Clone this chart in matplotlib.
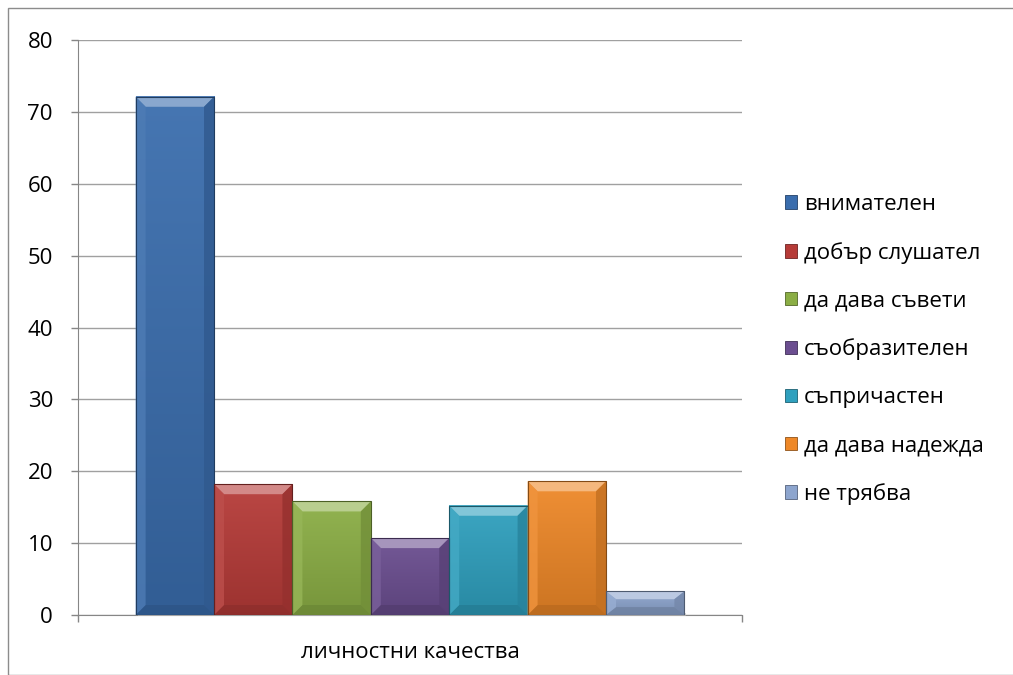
import matplotlib
matplotlib.use('Agg')
import matplotlib.pyplot as plt
from matplotlib.patches import Polygon, Rectangle, Patch
from matplotlib import colors as mcolors
import numpy as np

plt.rcParams['font.family'] = ['Open Sans', 'DejaVu Sans']

# Data
categories = ['внимателен', 'добър слушател', 'да дава съвети', 'съобразителен',
              'съпричастен', 'да дава надежда', 'не трябва']
values = [72.1, 18.2, 15.8, 10.7, 15.2, 18.6, 3.3]
group_label = 'личностни качества'
bar_colors = ['#3A6DAD', '#B63B38', '#8BAE45', '#6B4E90', '#2FA0BE', '#EE8828', '#8DA5CE']
y_ticks = [0, 10, 20, 30, 40, 50, 60, 70, 80]


def mix(c, other, t):
    c = np.array(mcolors.to_rgb(c))
    o = np.array(mcolors.to_rgb(other))
    return tuple(c * (1 - t) + o * t)


W, H = 1013, 675
fig = plt.figure(figsize=(W / 100, H / 100), dpi=100)

# chart area border
fig.patches.append(Rectangle((8 / W, 0), 1.2, 1 - 8 / H, transform=fig.transFigure,
                             fill=False, edgecolor='#8C8C8C', linewidth=1))

ax_l, ax_r, ax_t, ax_b = 78, 742, 40, 615
ax = fig.add_axes([ax_l / W, 1 - ax_b / H, (ax_r - ax_l) / W, (ax_b - ax_t) / H])
ax.set_xlim(0, 1)
ax.set_ylim(0, 80)

n = len(values)
gap = 1.47
bw = 1 / (n + gap)
px_x = 1 / (ax_r - ax_l)
px_y = 80 / (ax_b - ax_t)
bev = 10
bx, by = bev * px_x, bev * px_y

for i, (v, c) in enumerate(zip(values, bar_colors)):
    x0 = (gap / 2 + i) * bw
    x1 = x0 + bw
    # soft shadow under bar
    ax.add_patch(Rectangle((x0 + 2 * px_x, -1.0 * px_y), bw, 3 * px_y, facecolor='#BBBBBB',
                           edgecolor='none', alpha=0.6, zorder=2, clip_on=False))
    # body with a soft vertical gradient
    grad = np.linspace(0, 1, 64).reshape(-1, 1)
    top_c = np.array(mix(c, 'white', 0.06))
    bot_c = np.array(mix(c, 'black', 0.14))
    img = top_c * (1 - grad[..., None]) + bot_c * grad[..., None]
    ax.imshow(img, extent=(x0, x1, 0, v), origin='upper', aspect='auto',
              zorder=3, interpolation='bilinear')
    b_y = min(by, v / 3)
    # bevels
    ax.add_patch(Polygon([(x0, v), (x1, v), (x1 - bx, v - b_y), (x0 + bx, v - b_y)],
                         facecolor=mix(c, 'white', 0.4), edgecolor='none', zorder=4))
    ax.add_patch(Polygon([(x1, v), (x1, 0), (x1 - bx, b_y), (x1 - bx, v - b_y)],
                         facecolor=mix(c, 'black', 0.18), edgecolor='none', alpha=0.8, zorder=4))
    ax.add_patch(Polygon([(x0, 0), (x1, 0), (x1 - bx, b_y), (x0 + bx, b_y)],
                         facecolor=mix(c, 'black', 0.22), edgecolor='none', alpha=0.8, zorder=4))
    ax.add_patch(Polygon([(x0, 0), (x0, v), (x0 + bx, v - b_y), (x0 + bx, b_y)],
                         facecolor=mix(c, 'white', 0.1), edgecolor='none', alpha=0.8, zorder=4))
    ax.add_patch(Rectangle((x0, 0), bw, v, facecolor='none',
                           edgecolor=mix(c, 'black', 0.45), linewidth=0.8, zorder=5))

ax.set_xlim(0, 1)
ax.set_ylim(0, 80)
ax.set_yticks(y_ticks)
ax.yaxis.grid(True, color='#A0A0A0', linewidth=1)
ax.set_axisbelow(True)
ax.set_xticks([0, 1])
ax.set_xticklabels(['', ''])
ax.tick_params(axis='both', direction='out', length=5, color='#868686', width=1,
               labelsize=16, labelcolor='black')
ax.tick_params(axis='y', pad=13)
for s in ['top', 'right']:
    ax.spines[s].set_visible(False)
for s in ['left', 'bottom']:
    ax.spines[s].set_color('#868686')
    ax.spines[s].set_zorder(1)

ax.text(0.5, -38 / (ax_b - ax_t), group_label, transform=ax.transAxes,
        ha='center', va='center', fontsize=16)

handles = [Patch(facecolor=c, edgecolor=mix(c, 'black', 0.4), linewidth=0.6) for c in bar_colors]
fig.legend(handles, categories, loc='upper left', bbox_to_anchor=(785 / W, 1 - 194 / H),
           frameon=False, fontsize=16, handlelength=0.55, handleheight=0.55,
           handletextpad=0.3, labelspacing=1.21, borderaxespad=0, borderpad=0)

fig.savefig('out.png', dpi=100)
